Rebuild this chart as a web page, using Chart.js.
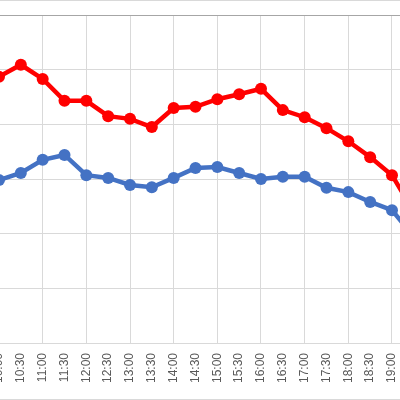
<!DOCTYPE html>
<html>
<head>
<meta charset="utf-8">
<script src="https://cdn.jsdelivr.net/npm/chart.js@4/dist/chart.umd.min.js"></script>
<style>
    html, body { margin: 0; padding: 0; background: #fff; }
    #frame { position: relative; width: 400px; height: 400px; overflow: hidden; background: #fff; }
    #wrap { position: absolute; left: -61px; top: 0; width: 520px; height: 400px; }
    .edge { position: absolute; left: 0; width: 400px; height: 1px; background: #d9d9d9; }
</style>
</head>
<body>
<div id="frame">
    <div id="wrap"><canvas id="chart" width="520" height="400"></canvas></div>
    <div class="edge" style="top:0"></div>
    <div class="edge" style="top:399px"></div>
</div>
<script>
// Times on the category axis (9:30 and 19:30 sit just outside the visible crop)
const times = ['9:30', '10:00', '10:30', '11:00', '11:30', '12:00', '12:30', '13:00', '13:30',
    '14:00', '14:30', '15:00', '15:30', '16:00', '16:30', '17:00', '17:30', '18:00',
    '18:30', '19:00', '19:30'];

const redSeries = [47.5, 48.7, 50.9, 48.3, 44.3, 44.3, 41.5, 41.0, 39.5, 43.0, 43.2,
    44.6, 45.5, 46.5, 42.6, 41.3, 39.3, 36.9, 34.0, 30.7, 24.0];
const blueSeries = [29.0, 29.8, 31.1, 33.5, 34.4, 30.7, 30.2, 28.9, 28.5, 30.2, 32.0,
    32.2, 31.1, 30.0, 30.4, 30.4, 28.4, 27.6, 25.8, 24.3, 19.4];

const yMin = 0;
const yMax = 60;
const yStep = 10;

const ctx = document.getElementById('chart').getContext('2d');
new Chart(ctx, {
    type: 'line',
    data: {
        labels: times,
        datasets: [
            {
                data: redSeries,
                borderColor: '#ff0000',
                backgroundColor: '#ff0000',
                borderWidth: 4.5,
                pointRadius: 6,
                pointBorderWidth: 0,
                tension: 0,
                clip: false
            },
            {
                data: blueSeries,
                borderColor: '#4472c4',
                backgroundColor: '#4472c4',
                borderWidth: 4.5,
                pointRadius: 6,
                pointBorderWidth: 0,
                tension: 0,
                clip: false
            }
        ]
    },
    options: {
        responsive: false,
        animation: false,
        layout: {
            padding: { left: 38.17, right: 45.17, top: 15, bottom: 0 }
        },
        plugins: {
            legend: { display: false },
            tooltip: { enabled: false }
        },
        scales: {
            x: {
                type: 'category',
                offset: false,
                afterFit: (scale) => { scale.height = 57; },
                border: { display: true, color: '#d9d9d9' },
                grid: {
                    drawTicks: false,
                    color: (c) => (c.index % 2 === 1 ? '#d9d9d9' : 'rgba(0,0,0,0)')
                },
                ticks: {
                    autoSkip: false,
                    minRotation: 90,
                    maxRotation: 90,
                    padding: 10,
                    color: '#595959',
                    font: { family: 'Liberation Sans', size: 12 }
                }
            },
            y: {
                min: yMin,
                max: yMax,
                afterFit: (scale) => { scale.width = 0; },
                border: { display: false },
                grid: {
                    drawTicks: false,
                    color: (c) => (c.tick && c.tick.value === yMax ? '#a6a6a6' : '#d9d9d9')
                },
                ticks: { display: false, stepSize: yStep }
            }
        }
    }
});
</script>
</body>
</html>
